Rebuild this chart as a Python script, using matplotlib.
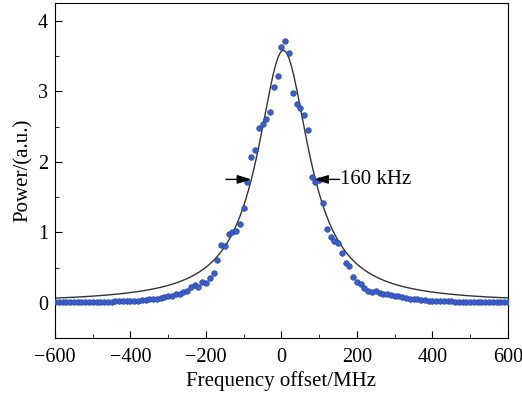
import numpy as np
import matplotlib.pyplot as plt
from matplotlib.ticker import MultipleLocator

plt.rcParams["font.family"] = ["Liberation Serif", "DejaVu Serif"]

# measured spectrum, 10 MHz steps
freq = np.arange(-600, 601, 10)
power = [
    0.01, 0.01, 0.01, 0.01, 0.01, 0.01, 0.01, 0.01, 0.01, 0.01,   # -600..-510
    0.01, 0.01, 0.01, 0.01, 0.01, 0.01, 0.02, 0.02, 0.02, 0.02,   # -500..-410
    0.02, 0.03, 0.03, 0.04, 0.04, 0.05, 0.05, 0.06, 0.07, 0.08,   # -400..-310
    0.09, 0.10, 0.12, 0.13, 0.15, 0.16, 0.22, 0.25, 0.23, 0.30,   # -300..-210
    0.28, 0.35, 0.42, 0.61, 0.82, 0.81, 0.98, 1.00, 1.02, 1.12,   # -200..-110
    1.35, 1.72, 2.07, 2.17, 2.48, 2.54, 2.60, 2.71, 3.06, 3.21,   # -100..-10
    3.63,                                                         # 0
    3.71, 3.54, 2.97, 2.82, 2.77, 2.67, 2.45, 1.78, 1.71, 1.74,   # 10..100
    1.41, 1.05, 0.93, 0.88, 0.85, 0.70, 0.57, 0.52, 0.36, 0.30,   # 110..200
    0.26, 0.21, 0.16, 0.15, 0.16, 0.14, 0.13, 0.12, 0.11, 0.10,   # 210..300
    0.09, 0.08, 0.07, 0.06, 0.06, 0.05, 0.04, 0.04, 0.03, 0.02,   # 310..400
    0.02, 0.02, 0.02, 0.02, 0.02, 0.01, 0.01, 0.01, 0.01, 0.01,   # 410..500
    0.01, 0.01, 0.01, 0.01, 0.01, 0.01, 0.01, 0.01, 0.01, 0.01,   # 510..600
]

# Lorentzian fit parameters
fit_amp = 3.58
fit_center = 5.0
fit_hwhm = 83.0

half_max = 1.75
left_arrow = (-147, -80)
right_arrow = (154, 87)
width_label = "160 kHz"

fx = np.linspace(-600, 600, 1201)
fy = fit_amp / (1 + ((fx - fit_center) / fit_hwhm) ** 2)

fig = plt.figure(figsize=(5.22, 3.97), dpi=100)
ax = fig.add_axes([0.1054, 0.1486, 0.8676, 0.8434])

ax.plot(fx, fy, color="#333333", lw=1.0, zorder=2)
ax.plot(freq, power, "o", color="#3a5fcd", mec="#2a48a8", mew=0.5, ms=4.0, zorder=3)

arrow_style = dict(arrowstyle="-|>,head_length=0.7,head_width=0.22",
                   color="black", lw=1.0, mutation_scale=12, shrinkA=0, shrinkB=0)
ax.annotate("", xy=(left_arrow[1], half_max), xytext=(left_arrow[0], half_max),
            arrowprops=arrow_style)
ax.annotate("", xy=(right_arrow[1], half_max), xytext=(right_arrow[0], half_max),
            arrowprops=arrow_style)
ax.text(right_arrow[0] + 2, half_max, width_label, fontsize=15, va="center", ha="left")

ax.set_xlim(-600, 600)
ax.set_ylim(-0.5, 4.25)
ax.xaxis.set_major_locator(MultipleLocator(200))
ax.xaxis.set_minor_locator(MultipleLocator(100))
ax.yaxis.set_major_locator(MultipleLocator(1))
ax.yaxis.set_minor_locator(MultipleLocator(0.5))
ax.tick_params(which="both", direction="in", labelsize=14.5, top=False, right=False)
ax.tick_params(which="major", length=5)
ax.tick_params(axis="x", which="major", pad=7)
ax.tick_params(axis="y", which="major", pad=5)
ax.tick_params(which="minor", length=3)

ax.set_xlabel("Frequency offset/MHz", fontsize=15, labelpad=3)
ax.set_ylabel("Power/(a.u.)", fontsize=15, labelpad=4)

fig.savefig("out.png", dpi=100)
